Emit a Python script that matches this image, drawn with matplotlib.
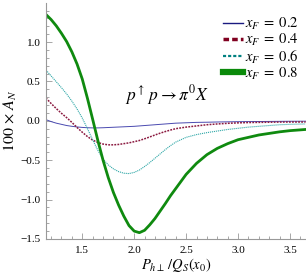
import matplotlib
matplotlib.use("Agg")
import matplotlib.pyplot as plt
from matplotlib.lines import Line2D
from matplotlib.ticker import MultipleLocator

plt.rcParams['font.family'] = ['Liberation Serif', 'DejaVu Serif']
plt.rcParams['mathtext.fontset'] = 'stix'

x = [1.15, 1.20, 1.25, 1.30, 1.35, 1.40, 1.45, 1.50, 1.55, 1.60, 1.65, 1.70, 1.75,
     1.80, 1.85, 1.90, 1.95, 2.00, 2.05, 2.10, 2.15, 2.20, 2.25, 2.30, 2.35, 2.40,
     2.50, 2.60, 2.70, 2.80, 2.90, 3.00, 3.10, 3.20, 3.30, 3.40, 3.50, 3.65]

xf02 = [0.015, -0.01, -0.03, -0.045, -0.06, -0.07, -0.078, -0.084, -0.088, -0.09, -0.09,
        -0.088, -0.085, -0.082, -0.079, -0.076, -0.073, -0.07, -0.065, -0.06, -0.055,
        -0.05, -0.045, -0.04, -0.035, -0.03, -0.025, -0.02, -0.018, -0.015, -0.013,
        -0.011, -0.01, -0.009, -0.008, -0.007, -0.006, -0.005]

xf04 = [0.29, 0.22, 0.155, 0.095, 0.04, -0.02, -0.085, -0.145, -0.20, -0.245, -0.275,
        -0.295, -0.305, -0.305, -0.30, -0.29, -0.28, -0.265, -0.25, -0.228, -0.205,
        -0.18, -0.157, -0.136, -0.117, -0.10, -0.08, -0.065, -0.05, -0.04, -0.032,
        -0.026, -0.022, -0.02, -0.018, -0.016, -0.015, -0.015]

xf06 = [0.645, 0.57, 0.495, 0.42, 0.34, 0.25, 0.15, 0.035, -0.10, -0.24, -0.375, -0.485,
        -0.56, -0.61, -0.645, -0.665, -0.67, -0.655, -0.625, -0.58, -0.53, -0.475,
        -0.42, -0.365, -0.315, -0.27, -0.21, -0.175, -0.15, -0.13, -0.11, -0.095,
        -0.08, -0.07, -0.06, -0.05, -0.045, -0.04]

xf08 = [1.35, 1.285, 1.205, 1.11, 1.005, 0.875, 0.72, 0.53, 0.285, 0.02, -0.25, -0.50,
        -0.72, -0.91, -1.07, -1.21, -1.33, -1.40, -1.42, -1.39, -1.32, -1.24, -1.145,
        -1.05, -0.95, -0.86, -0.68, -0.54, -0.43, -0.35, -0.29, -0.24, -0.21, -0.18,
        -0.16, -0.14, -0.125, -0.11]

labels = [r'$x_F\;=\;0.2$', r'$x_F\;=\;0.4$', r'$x_F\;=\;0.6$', r'$x_F\;=\;0.8$']

fig = plt.figure(figsize=(3.06, 2.75), dpi=100)
ax = fig.add_axes([0.149, 0.131, 0.851, 0.858])

ax.plot(x, xf02, color='#4a4ab0', lw=0.7, ls='-')
ax.plot(x, xf04, color='#8b1a40', lw=1.1, ls=(0, (1.2, 0.8)))
ax.plot(x, xf06, color='#30a8a8', lw=0.8, ls=(0, (1.0, 0.8)))
ax.plot(x, xf08, color='#0f8a0f', lw=2.0, ls='-')

ax.set_xlim(1.147, 3.654)
ax.set_ylim(-1.5, 1.495)

for s in ['top', 'right']:
    ax.spines[s].set_visible(False)
for s in ['left', 'bottom']:
    ax.spines[s].set_color('#999999')
    ax.spines[s].set_linewidth(0.8)

ax.xaxis.set_major_locator(MultipleLocator(0.5))
ax.xaxis.set_minor_locator(MultipleLocator(0.1))
ax.yaxis.set_major_locator(MultipleLocator(0.5))
ax.yaxis.set_minor_locator(MultipleLocator(0.1))
ax.tick_params(which='both', direction='in', color='#999999', labelsize=8, width=0.6)
ax.tick_params(which='major', length=4)
ax.tick_params(which='minor', length=2)
ax.tick_params(axis='x', pad=5)
ax.set_xticks([1.5, 2.0, 2.5, 3.0, 3.5])
ax.set_xticklabels(['1.5', '2.0', '2.5', '3.0', '3.5'])
ax.set_yticks([-1.5, -1.0, -0.5, 0.0, 0.5, 1.0])
ax.set_yticklabels(['\u22121.5', '\u22121.0', '\u22120.5', '0.0', '0.5', '1.0'])

ax.set_xlabel(r'$P_{h\perp}\,/Q_S(x_0)$', fontsize=10.5, labelpad=1)
ax.set_ylabel(r'$100\,\times\,A_N$', fontsize=11.5, labelpad=1)

ax.text(2.31, 0.33, r'$p^{\uparrow}\,p \rightarrow \pi^0 X$', fontsize=12.5,
        ha='center', va='center')

handles = [
    Line2D([], [], color='#1a1a80', lw=1.0, ls='-'),
    Line2D([], [], color='#800020', lw=2.5, ls=(0, (1.6, 0.9))),
    Line2D([], [], color='#008080', lw=1.6, ls=(0, (1.4, 0.9))),
    Line2D([], [], color='#0a8a0a', lw=4.5, ls='-'),
]
ax.legend(handles, labels, loc='upper right', bbox_to_anchor=(1.0, 0.975),
          frameon=False, fontsize=10.5, handlelength=1.4, handletextpad=0.1,
          labelspacing=0.0, borderaxespad=0.2, borderpad=0.3)

fig.savefig('out.png', dpi=100)
